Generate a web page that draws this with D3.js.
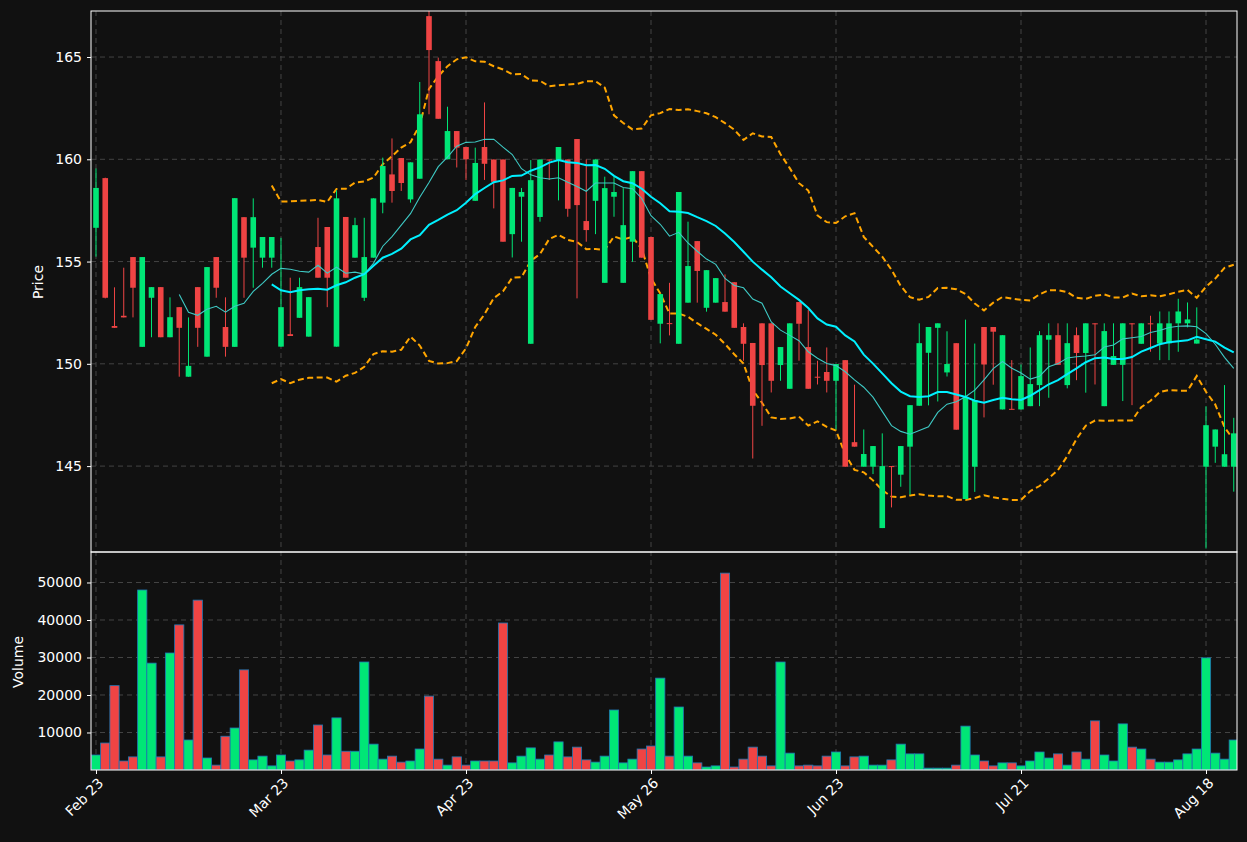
<!DOCTYPE html>
<html><head><meta charset="utf-8">
<script src="https://cdn.jsdelivr.net/npm/d3@7"></script>
<style>html,body{margin:0;background:#111111;}svg{display:block;}</style>
</head><body><svg id="c" width="1247" height="842"></svg>
<script>
const opens = [156.65,159.08,151.85,152.35,155.22,150.83,153.23,153.75,151.3,152.77,149.37,153.75,150.35,155.22,151.8,150.83,157.17,155.68,155.19,155.19,
150.84,151.45,152.25,151.33,155.71,156.69,150.84,157.18,155.19,153.23,155.19,157.88,159.26,160.06,158.04,159.05,167.0,164.8,160.0,161.38,
160.6,157.97,160.6,159.99,159.99,156.34,158.17,150.98,157.18,159.99,159.96,159.99,160.99,156.98,157.97,153.96,158.17,153.96,155.97,159.42,
156.2,151.96,151.99,150.98,152.99,156.0,152.74,152.99,153.02,153.99,151.8,151.02,151.98,151.98,149.94,148.78,153.02,150.82,149.37,149.6,
149.17,150.18,146.17,144.97,144.97,141.97,145.0,144.58,145.95,147.95,150.54,151.76,149.58,151.01,143.39,144.97,151.8,151.8,147.77,147.8,
147.77,147.93,148.96,151.18,151.4,148.96,151.4,150.53,151.98,147.93,149.95,149.95,151.98,150.98,151.98,150.99,151.0,151.98,151.98,150.99,
144.97,145.95,144.97,144.97];
const closes = [158.6,153.23,151.76,152.27,153.72,155.22,153.75,151.3,152.28,151.76,149.9,151.76,154.73,153.72,150.83,158.1,155.19,157.17,156.2,156.2,
152.77,151.36,153.75,153.26,154.21,154.21,158.09,154.21,156.78,155.22,158.09,159.67,158.45,158.84,159.85,162.2,165.34,161.98,161.38,160.57,
160.0,159.82,159.78,158.9,155.97,158.6,158.4,158.98,159.99,159.95,160.6,157.58,157.76,156.54,159.99,158.59,158.4,156.78,159.42,155.19,
152.15,153.41,151.96,158.4,154.78,154.54,154.58,154.19,152.55,151.76,150.98,147.95,149.94,149.17,150.82,151.98,151.96,148.78,149.36,149.17,
149.99,144.97,145.95,145.59,145.98,145.0,144.98,145.98,147.98,151.01,151.8,151.98,149.99,146.78,148.39,148.23,149.97,151.57,151.4,147.77,
149.4,149.01,151.4,151.4,149.95,151.01,150.53,151.98,151.96,151.6,150.38,151.98,151.96,151.98,151.96,151.98,151.98,152.56,152.17,151.19,
147.0,146.79,145.58,146.6];
const highs = [159.55,159.1,153.74,154.7,155.22,155.22,153.75,153.75,153.25,152.77,152.27,153.75,154.73,155.22,153.25,158.1,157.17,158.09,156.2,156.2,
156.16,154.21,154.21,153.26,157.14,156.69,158.48,157.18,157.14,157.14,158.09,160.08,161.02,160.06,159.85,163.78,167.3,164.97,162.57,161.38,
160.6,160.57,162.78,159.99,159.99,158.6,158.6,159.96,159.99,159.99,160.6,159.99,160.99,159.99,159.99,159.15,159.15,158.59,159.42,159.42,
156.21,153.41,153.96,158.4,156.95,156.0,154.58,154.19,154.37,153.99,151.98,151.02,151.98,151.98,150.82,151.98,153.02,152.63,150.15,150.8,
149.99,150.18,148.98,146.79,145.98,146.6,145.0,145.98,147.98,151.98,151.8,151.98,151.59,151.01,152.16,150.99,151.8,151.8,151.4,150.18,
149.97,150.8,151.6,151.98,151.98,151.98,151.78,151.98,151.98,151.98,151.98,151.98,151.98,151.98,152.35,152.56,152.56,153.18,153.0,152.76,
147.93,146.79,148.96,147.36];
const lows = [155.24,153.2,151.76,152.27,152.27,150.83,151.3,151.3,151.3,149.37,149.37,150.83,150.35,153.23,150.35,150.83,153.23,153.72,154.7,154.7,
150.84,151.36,152.25,151.33,154.21,152.77,150.84,154.21,155.19,153.07,155.19,157.36,157.88,158.45,157.88,159.05,162.2,161.98,160.0,159.6,
158.99,157.97,158.99,157.6,155.97,155.2,155.97,150.98,156.95,158.99,157.99,157.19,153.2,155.97,156.34,153.96,157.19,153.96,154.99,155.19,
152.14,151.0,151.39,150.98,152.99,152.99,152.55,152.99,152.55,151.76,150.15,145.37,146.97,148.6,149.17,148.78,150.15,148.78,148.99,148.6,
146.79,144.97,145.95,144.97,144.61,141.97,142.98,143.99,143.6,147.95,147.97,148.16,149.38,146.78,143.39,143.74,147.38,148.98,147.77,147.77,
147.77,147.93,147.93,148.34,149.95,148.8,149.2,148.59,148.99,147.93,149.95,148.18,147.98,150.98,150.59,150.18,150.18,150.59,151.78,150.99,
140.97,145.16,144.97,143.75];
const volumes = [4000,7200,22500,2400,3500,48000,28500,3500,31200,38700,8000,45300,3200,1300,9000,11200,26700,2700,3700,1100,
4000,2400,2700,5300,12000,4000,13900,5000,5000,28800,6900,2900,3700,2100,2400,5600,19700,2900,1300,3500,
1300,2400,2400,2400,39200,1900,3700,5900,2900,4000,7500,3500,6100,2700,2100,3700,16000,1900,2900,5600,
6400,24500,3700,16800,3700,1900,800,1100,52500,800,2900,6100,3700,1100,28800,4500,1100,1300,1100,3700,
4800,1100,3500,3700,1300,1300,2700,6900,4300,4300,500,500,500,1300,11700,4000,2400,1100,1900,1900,
1100,2400,4800,3200,4300,1300,4800,2900,13100,4000,2400,12300,6100,5600,2900,2100,2100,2700,4300,5600,
29900,4500,2900,8000];
const tickIdx = [0,20,40,60,80,100,120];
const tickLabels = ["Feb 23","Mar 23","Apr 23","May 26","Jun 23","Jul 21","Aug 18"];
const priceTicks = [145,150,155,160,165];
const volTicks = [10000,20000,30000,40000,50000];

const L=91,R=1237,T=11,PB=552,VB=770;
const GREEN="#00e676",RED="#ef4444",FONT="DejaVu Sans";
const svg=d3.select("#c");
svg.append("rect").attr("width",1247).attr("height",842).attr("fill","#111111");
const x=d3.scaleLinear().domain([-0.54,123.35]).range([L,R]);
const yP=d3.scaleLinear().domain([140.8,167.25]).range([PB,T]);
const yV=d3.scaleLinear().domain([0,58133]).range([VB,PB]);
const n=closes.length, idx=d3.range(n);
const col=i=>closes[i]>=opens[i]?GREEN:RED;

const defs=svg.append("defs");
defs.append("clipPath").attr("id","cp").append("rect").attr("x",L).attr("y",T).attr("width",R-L).attr("height",PB-T);
defs.append("clipPath").attr("id","cv").append("rect").attr("x",L).attr("y",PB).attr("width",R-L).attr("height",VB-PB);

const grid=svg.append("g").attr("stroke","#444").attr("stroke-dasharray","5,4").attr("stroke-width",1);
tickIdx.forEach(t=>{grid.append("line").attr("x1",x(t)).attr("x2",x(t)).attr("y1",T).attr("y2",VB);});
priceTicks.forEach(t=>{grid.append("line").attr("x1",L).attr("x2",R).attr("y1",yP(t)).attr("y2",yP(t));});
volTicks.forEach(t=>{grid.append("line").attr("x1",L).attr("x2",R).attr("y1",yV(t)).attr("y2",yV(t));});

function sma(p){return idx.map(i=>i<p-1?null:d3.mean(closes.slice(i-p+1,i+1)));}
function sd(p){return idx.map(i=>i<p-1?null:d3.deviation(closes.slice(i-p+1,i+1))*Math.sqrt((p-1)/p));}
const ma10=sma(10),ma20=sma(20),sd20=sd(20);
const up=idx.map(i=>ma20[i]==null?null:ma20[i]+2*sd20[i]);
const lo=idx.map(i=>ma20[i]==null?null:ma20[i]-2*sd20[i]);
const pg=svg.append("g").attr("clip-path","url(#cp)");
const line=arr=>d3.line().defined(i=>arr[i]!=null).x(i=>x(i)).y(i=>yP(arr[i]))(idx);
pg.append("path").attr("d",line(up)).attr("fill","none").attr("stroke","#ffa500").attr("stroke-width",2).attr("stroke-dasharray","6,3.5");
pg.append("path").attr("d",line(lo)).attr("fill","none").attr("stroke","#ffa500").attr("stroke-width",2).attr("stroke-dasharray","6,3.5");

const bw=5.6;
idx.forEach(i=>{
  pg.append("line").attr("x1",x(i)).attr("x2",x(i)).attr("y1",yP(highs[i])).attr("y2",yP(lows[i])).attr("stroke",col(i)).attr("stroke-width",1);
  const y1=yP(Math.max(opens[i],closes[i])),y2=yP(Math.min(opens[i],closes[i]));
  pg.append("rect").attr("x",x(i)-bw/2).attr("width",bw).attr("y",y1).attr("height",Math.max(1,y2-y1)).attr("fill",col(i));
});
pg.append("path").attr("d",line(ma10)).attr("fill","none").attr("stroke","#3ec9c4").attr("stroke-width",1.1);
pg.append("path").attr("d",line(ma20)).attr("fill","none").attr("stroke","#00f0ff").attr("stroke-width",2);

const vg=svg.append("g").attr("clip-path","url(#cv)");
const vw=x(1)-x(0);
idx.forEach(i=>{
  vg.append("rect").attr("x",x(i)-vw/2).attr("width",vw).attr("y",yV(volumes[i])).attr("height",yV(0)-yV(volumes[i]))
    .attr("fill",col(i)).attr("stroke","#1f77b4").attr("stroke-width",0.8);
});

svg.append("rect").attr("x",L).attr("y",T).attr("width",R-L).attr("height",PB-T).attr("fill","none").attr("stroke","#fff").attr("stroke-width",1);
svg.append("rect").attr("x",L).attr("y",PB).attr("width",R-L).attr("height",VB-PB).attr("fill","none").attr("stroke","#fff").attr("stroke-width",1);

function styleAxis(g){g.select(".domain").remove();g.selectAll("line").attr("stroke","#fff");g.selectAll("text").attr("fill","#fff").attr("font-family",FONT).attr("font-size",14);}
svg.append("g").attr("transform",`translate(${L},0)`).call(d3.axisLeft(yP).tickValues(priceTicks).tickSize(4).tickPadding(5)).call(styleAxis);
svg.append("g").attr("transform",`translate(${L},0)`).call(d3.axisLeft(yV).tickValues(volTicks).tickFormat(d3.format("d")).tickSize(4).tickPadding(5)).call(styleAxis);
const xa=svg.append("g").attr("transform",`translate(0,${VB})`).call(d3.axisBottom(x).tickValues(tickIdx).tickFormat((d,k)=>tickLabels[k]).tickSize(4)).call(styleAxis);
xa.selectAll("text").attr("text-anchor","end").attr("dx","-0.3em").attr("dy","0.6em").attr("transform","rotate(-45)");

svg.append("text").attr("transform","translate(43,282) rotate(-90)").attr("text-anchor","middle").attr("fill","#fff").attr("font-family",FONT).attr("font-size",14).text("Price");
svg.append("text").attr("transform","translate(23,662) rotate(-90)").attr("text-anchor","middle").attr("fill","#fff").attr("font-family",FONT).attr("font-size",14).text("Volume");
</script></body></html>
